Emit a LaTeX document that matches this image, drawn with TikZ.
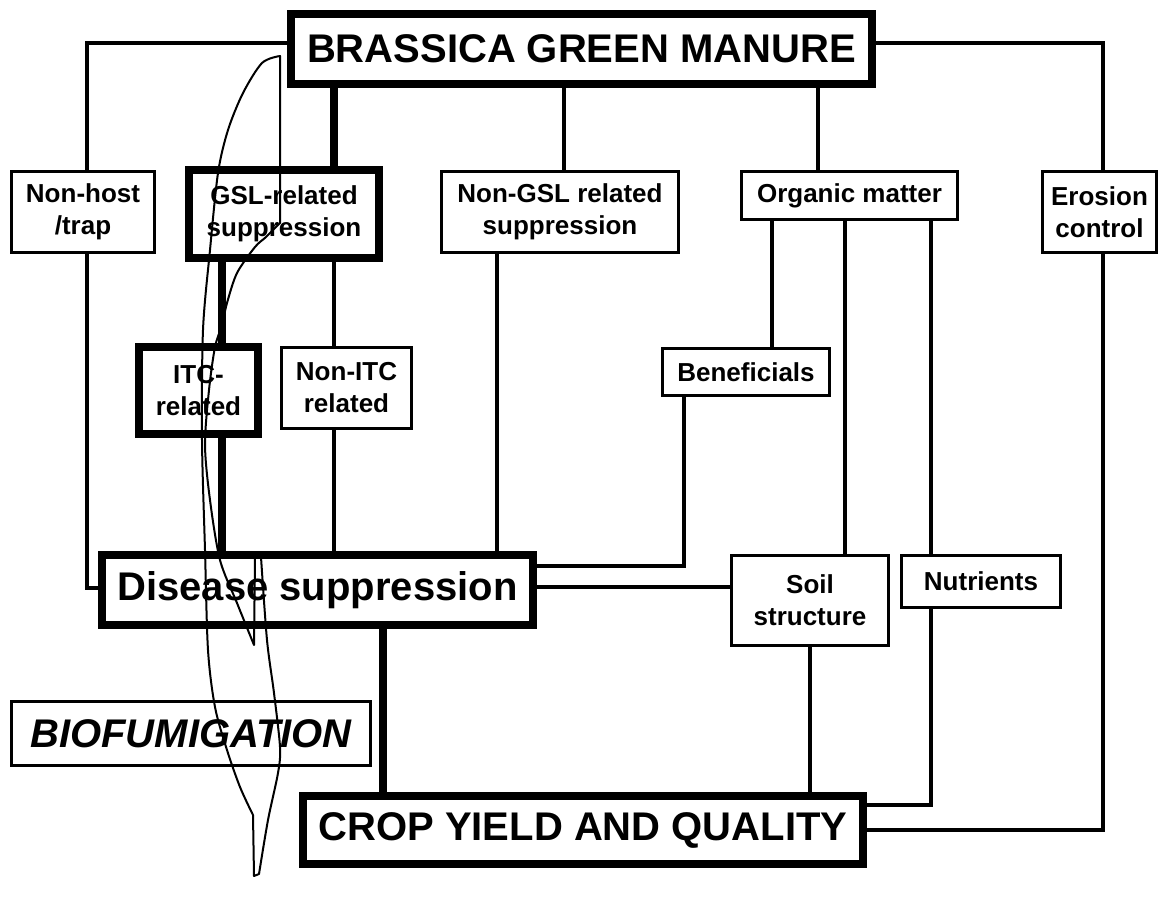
\documentclass[tikz,border=0pt]{standalone}
\usepackage{fontspec}
\setmainfont{Liberation Sans}

\tikzset{
  box/.style={draw, line width=3pt, align=center, inner sep=0pt,
    font=\bfseries\fontsize{26}{32}\selectfont},
  heavybox/.style={box, line width=8pt},
  bigtext/.style={font=\bfseries\fontsize{40}{48}\selectfont},
  link/.style={line width=3.5pt},
  heavylink/.style={line width=8pt},
  bubble/.style={line width=2pt, line join=round},
}

\begin{document}
\begin{tikzpicture}[x=1pt,y=-1pt]
\useasboundingbox (0,0) rectangle (1160,898);

	% boxes
	\node[heavybox,bigtext,minimum width=581pt,minimum height=70pt] (brassica) at (581.5,49) {BRASSICA GREEN MANURE};
	\node[box,minimum width=143pt,minimum height=81pt] (nonhost) at (83,212) {Non-host\\/trap};
	\node[heavybox,minimum width=190pt,minimum height=88pt] (gsl) at (284,214) {GSL-related\\suppression};
	\node[box,minimum width=237pt,minimum height=81pt] (nongsl) at (560,212) {Non-GSL related\\suppression};
	\node[box,minimum width=216pt,minimum height=48pt] (organic) at (849.5,195.5) {Organic matter};
	\node[box,minimum width=114pt,minimum height=81pt] (erosion) at (1099.5,212) {Erosion\\control};
	\node[heavybox,minimum width=119pt,minimum height=87pt] (itc) at (198.5,390.5) {ITC-\\related};
	\node[box,minimum width=130pt,minimum height=81pt] (nonitc) at (346.5,388) {Non-ITC\\related};
	\node[box,minimum width=167pt,minimum height=47pt] (benef) at (746,372) {Beneficials};
	\node[heavybox,bigtext,minimum width=431pt,minimum height=70pt] (disease) at (317.5,590) {Disease suppression};
	\node[box,minimum width=157pt,minimum height=90pt] (soil) at (810,600.5) {Soil\\structure};
	\node[box,minimum width=159pt,minimum height=52pt] (nutr) at (981,581.5) {Nutrients};
	\node[box,line width=2.5pt,font=\bfseries\itshape\fontsize{40}{48}\selectfont,
	  minimum width=359pt,minimum height=64pt] (biofum) at (191,733.5) {BIOFUMIGATION};
	\node[heavybox,bigtext,minimum width=560pt,minimum height=68pt] (crop) at (583,830) {CROP YIELD AND QUALITY};

	% links from the top box
	\draw[link] ([xshift=4pt]nonhost.north) |- ([yshift=6pt]brassica.west);
	\draw[link] ([xshift=3.5pt]erosion.north) |- ([yshift=6pt]brassica.east);
	\draw[heavylink] ([xshift=50pt]gsl.north) -- ([xshift=50pt]gsl.north |- brassica.south);
	\draw[link] ([xshift=4pt]nongsl.north) -- ([xshift=4pt]nongsl.north |- brassica.south);
	\draw[link] ([xshift=-31.5pt]organic.north) -- ([xshift=-31.5pt]organic.north |- brassica.south);

	% middle links
	\draw[heavylink] ([xshift=23.5pt]itc.north) -- ([xshift=23.5pt]itc.north |- gsl.south);
	\draw[link] ([xshift=-12.5pt]nonitc.north) -- ([xshift=-12.5pt]nonitc.north |- gsl.south);
	\draw[heavylink] ([xshift=23.5pt]itc.south) -- ([xshift=23.5pt]itc.south |- disease.north);
	\draw[link] ([xshift=-12.5pt]nonitc.south) -- ([xshift=-12.5pt]nonitc.south |- disease.north);
	\draw[link] ([xshift=-63pt]nongsl.south) -- ([xshift=-63pt]nongsl.south |- disease.north);
	\draw[link] ([xshift=26pt]benef.north) -- ([xshift=26pt]benef.north |- organic.south);
	\draw[link] ([xshift=35pt]soil.north) -- ([xshift=35pt]soil.north |- organic.south);
	\draw[link] ([xshift=-50pt]nutr.north) -- ([xshift=-50pt]nutr.north |- organic.south);
	\draw[link] ([xshift=-62pt]benef.south) |- ([yshift=24pt]disease.east);
	\draw[link] ([yshift=3pt]disease.east) -- ([yshift=3pt]disease.east -| soil.west);
	\draw[link] ([xshift=4pt]nonhost.south) |- ([yshift=2pt]disease.west);

	% links to the bottom box
	\draw[heavylink] ([xshift=65.5pt]disease.south) -- ([xshift=65.5pt]disease.south |- crop.north);
	\draw[link] (soil.south) -- (soil.south |- crop.north);
	\draw[link] ([xshift=-50pt]nutr.south) |- ([yshift=25pt]crop.east);
	\draw[link] ([xshift=3.5pt]erosion.south) |- (crop.east);

	% the thin curved outline on top
	\draw[bubble] plot[smooth] coordinates {(280,56) (262,63) (243,93) (228,130) (218,173)
	    (210,250) (203,330) (202,440) (205,550) (208,650) (215,707) (227,750) (240,787) (253,815)}
	  -- (254,876)
	  -- plot[smooth] coordinates {(259,874) (268,820) (278,773) (280,747) (274,693) (267,640) (261,557)}
	  -- (255,557) -- (254,645)
	  -- plot[smooth] coordinates {(254,645) (237,603) (220,560) (210,500) (205,445) (209,390)
	    (215,347) (222,325) (227,303) (237,273) (255,247) (266,237) (280,223)}
	  -- cycle;
\end{tikzpicture}
\end{document}
